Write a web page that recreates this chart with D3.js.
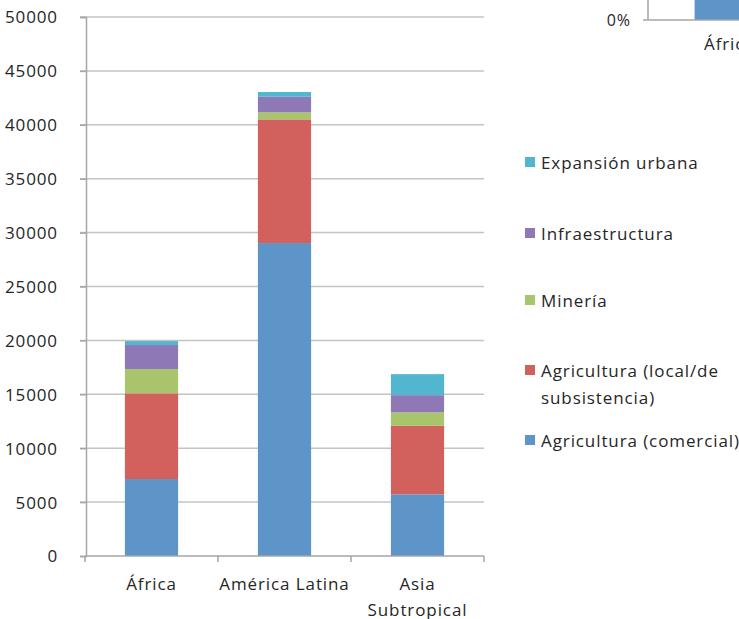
<!DOCTYPE html>
<html>
<head>
<meta charset="utf-8">
<script src="https://cdn.jsdelivr.net/npm/d3@7"></script>
<style>
  body { margin: 0; background: #fff; }
  svg { display: block; }
  svg text { font-family: "Open Sans", sans-serif; letter-spacing: 0.9px; }
</style>
</head>
<body>
<div id="chart"></div>
<script>
// regions and series
var regions = ["África", "América Latina", "Asia Subtropical"];
var seriesNames = ["Agricultura (comercial)", "Agricultura (local/de subsistencia)", "Minería", "Infraestructura", "Expansión urbana"];
var comercial = [7140, 29030, 5720];
var subsistencia = [7950, 11470, 6360];
var mineria = [2250, 650, 1240];
var infraestructura = [2230, 1450, 1600];
var urbana = [370, 440, 1950];
var colors = ["#5e95c9", "#d2605c", "#a8c56b", "#8f78b6", "#52b6d0"];
var yTicks = [0, 5000, 10000, 15000, 20000, 25000, 30000, 35000, 40000, 45000, 50000];

var W = 739, H = 619;
var svg = d3.select("#chart").append("svg")
    .attr("width", W)
    .attr("height", H);

// build rows for the stack
var rows = regions.map(function(r, i) {
    return {
        region: r,
        s0: comercial[i], s1: subsistencia[i], s2: mineria[i], s3: infraestructura[i], s4: urbana[i]
    };
});
var keys = ["s0", "s1", "s2", "s3", "s4"];
var stacked = d3.stack().keys(keys)(rows);

var x = d3.scaleBand().domain(regions).range([85, 484]).paddingInner(0.6).paddingOuter(0.3);
var y = d3.scaleLinear().domain([0, 50000]).range([556, 17]);

// gridlines
svg.append("g").selectAll("line")
    .data(yTicks.slice(1))
    .enter().append("line")
    .attr("x1", 80).attr("x2", 484)
    .attr("y1", function(d) { return y(d); })
    .attr("y2", function(d) { return y(d); })
    .attr("stroke", "#c4c4c4").attr("stroke-width", 1.5);

// y axis
var yAxis = svg.append("g")
    .attr("transform", "translate(86,0)")
    .call(d3.axisLeft(y).tickValues(yTicks).tickSize(6).tickPadding(22).tickFormat(d3.format("d")));
yAxis.attr("font-family", null).attr("font-size", null);
yAxis.select(".domain").attr("stroke", "#a6a6a6").attr("stroke-width", 1.5);
yAxis.selectAll(".tick line").attr("stroke", "#a6a6a6").attr("stroke-width", 1.5);
yAxis.selectAll("text").attr("fill", "#262626").style("font-size", "17px").attr("dy", "0.35em");

// bars
svg.append("g").selectAll("g")
    .data(stacked)
    .enter().append("g")
    .attr("fill", function(d, i) { return colors[i]; })
    .selectAll("rect")
    .data(function(d) { return d; })
    .enter().append("rect")
    .attr("x", function(d) { return x(d.data.region); })
    .attr("width", x.bandwidth())
    .attr("y", function(d) { return y(d[1]); })
    .attr("height", function(d) { return y(d[0]) - y(d[1]); });

// x axis with ticks at category boundaries
var xg = svg.append("g");
xg.append("line")
    .attr("x1", 85).attr("x2", 484).attr("y1", 556).attr("y2", 556)
    .attr("stroke", "#a6a6a6").attr("stroke-width", 1.5);
var bounds = [0, 1, 2, 3].map(function(i) { return 85 + i * x.step(); });
xg.selectAll(".xt").data(bounds).enter().append("line")
    .attr("x1", function(d) { return d; }).attr("x2", function(d) { return d; })
    .attr("y1", 556).attr("y2", 562)
    .attr("stroke", "#a6a6a6").attr("stroke-width", 1.5);

var catLines = { "África": ["África"], "América Latina": ["América Latina"], "Asia Subtropical": ["Asia", "Subtropical"] };
regions.forEach(function(r) {
    var t = xg.append("text")
        .attr("x", x(r) + x.bandwidth() / 2)
        .attr("y", 590)
        .attr("text-anchor", "middle")
        .attr("fill", "#262626")
        .style("font-size", "17px");
    catLines[r].forEach(function(line, j) {
        t.append("tspan").attr("x", x(r) + x.bandwidth() / 2).attr("dy", j === 0 ? 0 : 26).text(line);
    });
});

// legend (top series first)
var legendItems = [
    { i: 4, lines: ["Expansión urbana"], y: 163 },
    { i: 3, lines: ["Infraestructura"], y: 234 },
    { i: 2, lines: ["Minería"], y: 301 },
    { i: 1, lines: ["Agricultura (local/de", "subsistencia)"], y: 371 },
    { i: 0, lines: ["Agricultura (comercial)"], y: 441 }
];
var lg = svg.append("g");
legendItems.forEach(function(d) {
    lg.append("rect")
        .attr("x", 525).attr("y", d.y - 6)
        .attr("width", 10).attr("height", 10)
        .attr("fill", colors[d.i]);
    var t = lg.append("text")
        .attr("x", 541).attr("y", d.y + 6)
        .attr("fill", "#262626")
        .style("font-size", "17px");
    d.lines.forEach(function(line, j) {
        t.append("tspan").attr("x", 541).attr("dy", j === 0 ? 0 : 27).text(line);
    });
});

// piece of a second (100%) chart peeking in at the top right
var pctTicks = [0];
var africaTotal = d3.sum([comercial[0], subsistencia[0], mineria[0], infraestructura[0], urbana[0]]);
var xp = d3.scaleBand().domain(["África"]).range([655, 787]).paddingInner(0.6).paddingOuter(0.3);
var yp = d3.scaleLinear().domain([0, 1]).range([20, -500]);
var pg = svg.append("g");
pg.append("rect")
    .attr("x", xp("África")).attr("width", xp.bandwidth())
    .attr("y", yp(comercial[0] / africaTotal))
    .attr("height", yp(0) - yp(comercial[0] / africaTotal))
    .attr("fill", colors[0]);
pg.append("line").attr("x1", 648).attr("x2", 648).attr("y1", 0).attr("y2", 20)
    .attr("stroke", "#a6a6a6").attr("stroke-width", 1.5);
pg.append("line").attr("x1", 643).attr("x2", 739).attr("y1", 20).attr("y2", 20)
    .attr("stroke", "#a6a6a6").attr("stroke-width", 1.5);
pg.selectAll(".pt").data(pctTicks).enter().append("text")
    .attr("x", 631).attr("y", function(d) { return yp(d) + 6; })
    .attr("text-anchor", "end")
    .attr("fill", "#262626")
    .style("font-size", "16px")
    .text(function(d) { return d3.format(".0%")(d); });
pg.append("text")
    .attr("x", 704).attr("y", 50)
    .attr("fill", "#262626")
    .style("font-size", "17px")
    .text("África");
</script>
</body>
</html>
